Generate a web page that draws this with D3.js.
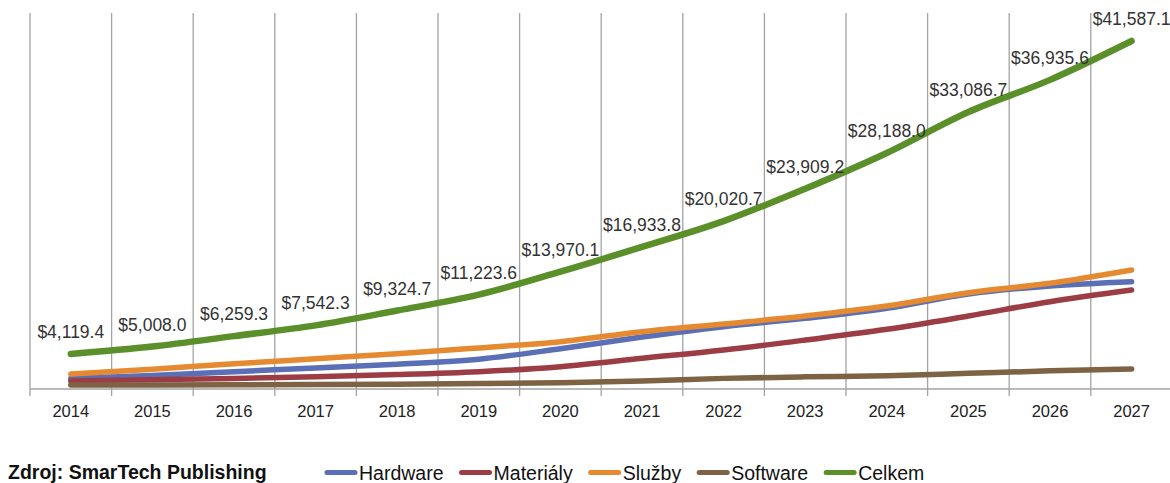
<!DOCTYPE html>
<html><head><meta charset="utf-8">
<script src="https://cdn.jsdelivr.net/npm/d3@7"></script>
<style>
html,body{margin:0;padding:0;background:#fff;}
svg{display:block;font-family:"Liberation Sans",Arial,sans-serif;}
</style></head>
<body>
<svg id="chart" width="1170" height="483"></svg>
<script>
const years = ["2014","2015","2016","2017","2018","2019","2020","2021","2022","2023","2024","2025","2026","2027"];
const hardware  = [1200,1550,2000,2450,2900,3500,4750,6150,7390,8390,9590,11300,12260,12770];
const materialy = [900,1050,1200,1400,1650,2000,2600,3600,4600,5790,7070,8670,10380,11780];
const sluzby    = [1724,2300,2950,3550,4150,4850,5590,6790,7710,8670,9860,11460,12580,14170];
const software  = [400,410,430,460,510,580,690,890,1200,1380,1500,1800,2100,2320];
const celkem    = [4119.4,5008.0,6259.3,7542.3,9324.7,11223.6,13970.1,16933.8,20020.7,23909.2,28188.0,33086.7,36935.6,41587.1];
const seriesNames = ["Hardware","Materiály","Služby","Software","Celkem"];
const seriesColors = ["#5a6fb6","#9c3d46","#e58a31","#7d6244","#5b8f2a"];
const sourceText = "Zdroj: SmarTech Publishing";

const svg = d3.select("#chart");
svg.append("rect").attr("width",1170).attr("height",483).attr("fill","#fff");

const x = d3.scaleBand().domain(years).range([30, 30 + 81.6*14]).padding(0);
const y = d3.scaleLinear().domain([0,45000]).range([388.4, 12.5]);
const cx = d => x(d) + x.bandwidth()/2;

// vertical gridlines with tick extensions
svg.append("g").selectAll("line").data(years).join("line")
  .attr("x1", d => x(d)).attr("x2", d => x(d))
  .attr("y1", 13).attr("y2", 396)
  .attr("stroke","#a3a3a3").attr("stroke-width",1.3);

// baseline
svg.append("line").attr("x1",30).attr("x2",1170).attr("y1",389).attr("y2",389)
  .attr("stroke","#a3a3a3").attr("stroke-width",1.5);

// x axis labels
const xAxis = d3.axisBottom(x).tickSize(0).tickPadding(0);
const gx = svg.append("g").attr("transform","translate(0,389)").call(xAxis);
gx.select(".domain").remove();
gx.selectAll("text").attr("font-size",16.5).attr("font-family","Liberation Sans, Arial, sans-serif")
  .attr("fill","#222").attr("dy",null).attr("y",28);

const allSeries = [hardware, materialy, sluzby, software, celkem];
const line = d3.line().x((d,i)=>cx(years[i])).y(d=>y(d)).curve(d3.curveMonotoneX);

allSeries.forEach((s,k)=>{
  svg.append("path").datum(s).attr("d",line)
    .attr("fill","none").attr("stroke",seriesColors[k])
    .attr("stroke-width", k===4 ? 6.5 : 5.5)
    .attr("stroke-linecap","round").attr("stroke-linejoin","round");
});

// data labels for Celkem
svg.append("g").selectAll("text").data(celkem).join("text")
  .attr("x",(d,i)=>cx(years[i])).attr("y",d=>y(d)-16)
  .attr("text-anchor","middle").attr("font-size",17.5).attr("fill","#333")
  .text(d=>"$"+d3.format(",.1f")(d));

// source
svg.append("text").attr("x",8).attr("y",479).attr("font-size",19.5).attr("font-weight","bold")
  .attr("fill","#111").text(sourceText);

// legend
let lx = 325;
const ly = 472.5;
seriesNames.forEach((n,k)=>{
  svg.append("line").attr("x1",lx+2).attr("x2",lx+30).attr("y1",ly).attr("y2",ly)
    .attr("stroke",seriesColors[k]).attr("stroke-width",5).attr("stroke-linecap","round");
  const t = svg.append("text").attr("x",lx+34).attr("y",ly+7).attr("font-size",19.5)
    .attr("fill","#111").text(n);
  lx = lx + 34 + t.node().getComputedTextLength() + 16;
});
</script>
</body></html>
